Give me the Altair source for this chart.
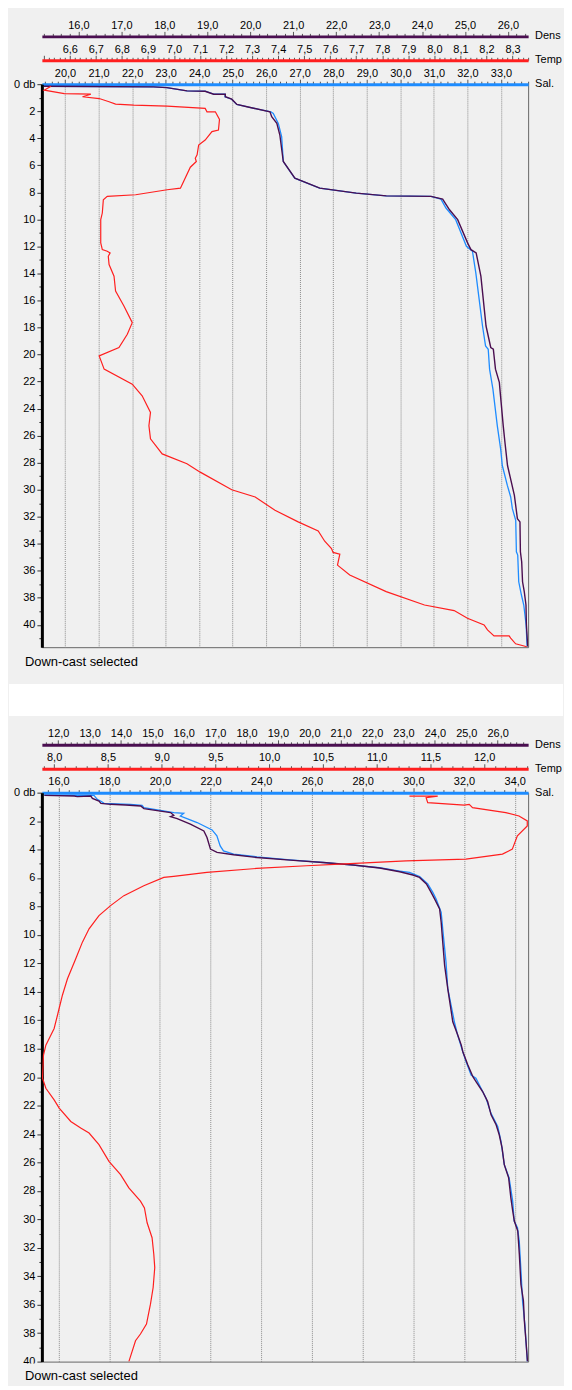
import math
import altair as alt
import pandas as pd

FONT = "Liberation Sans"
BG = "#f0f0f0"
BLUE = "#1e8cff"
PURPLE = "#4a0e50"
RED = "#ff1f1f"
W = 488
H1 = 565
H2 = 571
RIGHT = 35  # room right of the plot for the axis names

# ---------------- Panel 1 (upper) ----------------
p1_ymax = 41.65
p1_sal_dom = [19.31, 33.81]
p1_temp_dom = [6.493, 8.36]
p1_dens_dom = [15.15, 26.47]

p1_dens_depth = [0.15, 0.20, 0.25, 0.49, 0.52, 0.74, 0.74, 0.93, 1.11, 1.50, 1.72, 2.04, 2.41, 2.90, 3.76,
                 5.72, 6.95, 7.69, 8.06, 8.26, 8.30, 8.50, 9.29, 10.02, 11.74, 12.24, 12.48, 14.20, 17.89, 19.48,
                 19.61, 21.08, 22.06, 22.80, 25.26, 26.49, 28.21, 30.42, 32.14, 32.38, 34.59, 35.33, 36.81, 37.54,
                 38.53, 40.0, 41.6]
p1_dens = [15.20, 17.75, 18.06, 18.53, 18.95, 19.15, 19.42, 19.42, 19.57, 19.69, 20.00, 20.46, 20.50, 20.62, 20.69,
           20.77, 21.04, 21.62, 22.47, 23.17, 24.21, 24.48, 24.64, 24.83, 25.06, 25.14, 25.26, 25.37, 25.49, 25.60,
           25.66, 25.71, 25.80, 25.82, 25.89, 25.93, 25.99, 26.15, 26.22, 26.28, 26.29, 26.32, 26.34, 26.38,
           26.42, 26.43, 26.46]

p1_sal_depth = [0.15, 0.20, 0.25, 0.49, 0.52, 0.74, 0.74, 0.93, 1.11, 1.50, 1.72, 2.04, 2.16, 2.90, 3.88,
                5.72, 6.95, 7.69, 8.06, 8.26, 8.30, 8.50, 9.16, 10.02, 11.99, 12.36, 13.96, 15.92, 17.89, 19.36,
                19.61, 21.08, 22.56, 25.26, 26.98, 28.21, 29.68, 30.54, 31.40, 32.26, 34.59, 34.84, 36.81, 37.79,
                38.53, 40.0, 41.6]
p1_sal = [19.38, 22.64, 23.04, 23.63, 24.18, 24.43, 24.77, 24.77, 24.97, 25.12, 25.51, 26.14, 26.21, 26.36, 26.46,
          26.51, 26.85, 27.59, 28.68, 29.57, 30.91, 31.21, 31.36, 31.65, 31.97, 32.15, 32.25, 32.35, 32.45, 32.54,
          32.62, 32.66, 32.76, 32.89, 32.99, 33.04, 33.19, 33.29, 33.34, 33.44, 33.46, 33.50, 33.53, 33.61,
          33.68, 33.75, 33.78]

p1_temp_depth = [0.15, 0.44, 0.69, 0.74, 0.93, 1.06, 1.30, 1.47, 1.55, 1.62, 1.79, 2.04, 2.04, 2.60, 3.39,
                 3.51, 4.13, 4.50, 5.23, 5.48, 5.72, 6.14, 7.69, 7.81, 8.18, 8.30, 8.55, 9.53, 10.02, 11.74,
                 12.24, 12.36, 12.48, 12.73, 13.34, 14.20, 15.31, 16.41, 17.64, 18.50, 19.48, 20.10, 21.08, 22.19,
                 23.05, 24.28, 25.26, 26.24, 27.35, 28.08, 28.70, 30.0, 30.54, 31.52, 32.38, 33.05, 33.81, 34.35,
                 34.64, 34.77, 35.58, 36.31, 37.54, 38.53, 38.94, 39.51, 40.0, 40.37, 40.81, 40.81, 40.98, 41.40,
                 41.62]
p1_temp = [6.528, 6.502, 6.579, 6.681, 6.649, 6.713, 6.751, 6.776, 6.846, 6.974, 7.120, 7.127, 7.159, 7.175, 7.171,
           7.146, 7.120, 7.095, 7.089, 7.082, 7.086, 7.063, 7.025, 6.974, 6.853, 6.744, 6.729, 6.725, 6.719, 6.719,
           6.725, 6.744, 6.755, 6.748, 6.751, 6.770, 6.776, 6.808, 6.840, 6.821, 6.789, 6.713, 6.732, 6.840,
           6.878, 6.910, 6.904, 6.910, 6.955, 7.050, 7.101, 7.222, 7.312, 7.388, 7.477, 7.554, 7.579, 7.605,
           7.611, 7.637, 7.628, 7.675, 7.815, 7.962, 8.076, 8.127, 8.191, 8.204, 8.229, 8.287, 8.293, 8.312,
           8.355]

# ---------------- Panel 2 (lower) ----------------
p2_ymax = 40.0
p2_sal_dom = [15.345, 34.53]
p2_temp_dom = [7.886, 12.409]
p2_dens_dom = [11.48, 26.97]

p2_temp_depth = [0.24, 0.24, 0.35, 0.70, 0.87, 0.82, 1.05, 1.40, 1.64, 1.99, 2.34, 3.04, 3.97, 4.32, 4.67,
                 4.79, 5.02, 5.14, 5.33, 5.61, 5.89, 5.96, 6.54, 7.24, 7.94, 8.64, 9.57, 10.51, 11.68, 13.08,
                 14.24, 15.65, 16.58, 17.05, 17.75, 18.45, 20.08, 20.78, 21.60, 22.18, 23.12, 23.58, 23.93, 24.75,
                 25.92, 26.85, 27.79, 28.72, 29.19, 30.24, 31.29, 32.45, 33.39, 34.79, 35.96, 37.36, 38.06, 38.53,
                 40.0]
p2_temp = [11.305, 11.568, 11.460, 11.475, 11.815, 11.861, 11.892, 12.201, 12.324, 12.401, 12.401, 12.309, 12.262,
           12.170, 11.830, 11.274, 10.656, 10.348, 9.884, 9.421, 9.112, 9.020, 8.834, 8.649, 8.525, 8.417, 8.325,
           8.263, 8.201, 8.124, 8.077, 8.031, 8.000, 7.969, 7.923, 7.901, 7.892, 7.923, 8.000, 8.047, 8.155,
           8.247, 8.325, 8.417, 8.510, 8.618, 8.695, 8.803, 8.840, 8.865, 8.911, 8.927, 8.936, 8.921, 8.896,
           8.859, 8.803, 8.757, 8.695]

p2_dens_depth = [0.19, 0.24, 0.28, 0.24, 0.40, 0.59, 0.75, 0.82, 0.87, 0.94, 1.12, 1.40, 1.59, 1.68, 1.82,
                 2.22, 2.69, 3.15, 3.97, 4.20, 4.37, 4.56, 4.74, 4.91, 5.09, 5.30, 5.56, 5.79, 5.96, 6.42,
                 7.01, 7.47, 8.17, 9.11, 10.51, 12.14, 13.78, 14.94, 16.11, 17.05, 17.75, 18.21, 19.15, 19.97,
                 20.31, 21.01, 21.72, 22.65, 23.35, 24.05, 24.98, 26.15, 27.08, 28.49, 29.42, 30.12, 30.82, 32.46,
                 34.56, 35.73, 37.12, 38.53, 40.0]
p2_dens = [11.56, 12.51, 12.61, 13.04, 13.09, 13.30, 13.36, 13.67, 14.15, 14.63, 14.73, 15.58, 15.68, 15.58, 15.79,
           16.21, 16.64, 16.74, 16.85, 17.06, 17.59, 18.33, 19.39, 20.44, 21.40, 22.24, 22.88, 23.30, 23.51, 23.73,
           23.88, 23.99, 24.15, 24.20, 24.25, 24.31, 24.41, 24.49, 24.57, 24.73, 24.84, 24.89, 25.05, 25.21,
           25.31, 25.52, 25.68, 25.79, 25.95, 26.05, 26.14, 26.21, 26.35, 26.42, 26.48, 26.53, 26.64, 26.69,
           26.74, 26.82, 26.85, 26.90, 26.95]

p2_sal_depth = [0.19, 0.19, 0.47, 0.59, 0.75, 0.82, 0.89, 1.05, 1.40, 1.45, 1.64, 1.82, 2.10, 2.62, 3.04,
                3.74, 4.09, 4.32, 4.51, 4.72, 4.91, 5.09, 5.28, 5.51, 5.61, 5.89, 6.42, 7.01, 7.47, 8.41,
                9.57, 11.91, 13.78, 14.94, 16.11, 17.05, 18.21, 18.91, 19.85, 20.08, 21.48, 22.53, 23.47, 24.52,
                26.15, 27.09, 28.72, 30.12, 30.59, 31.52, 33.39, 35.73, 37.36, 40.0]
p2_sal = [15.44, 17.40, 17.53, 17.66, 17.80, 18.84, 19.30, 19.37, 20.55, 20.94, 20.81, 21.07, 21.47, 22.06, 22.25,
          22.38, 22.51, 22.91, 23.82, 25.13, 26.45, 27.63, 28.67, 29.46, 29.85, 30.25, 30.57, 30.77, 30.90, 31.10,
          31.16, 31.29, 31.36, 31.49, 31.62, 31.75, 31.95, 32.08, 32.28, 32.47, 32.87, 33.06, 33.33, 33.46,
          33.59, 33.78, 33.92, 33.98, 34.11, 34.18, 34.24, 34.31, 34.40, 34.50]

axis_titles = ["Density", "Temp", "Sal."]
note_text = ["Down-cast selected"]


def frame(d, v):
    return pd.DataFrame({"depth": d, "value": v, "i": list(range(len(d)))})


def tick_values(lo, hi, step):
    k0 = math.ceil(lo / step - 1e-9)
    k1 = math.floor(hi / step + 1e-9)
    return [round(k * step, 4) for k in range(k0, k1 + 1)]


def major_test(step):
    return f"abs(datum.value / {step} - round(datum.value / {step})) < 0.001"


def x_axis(color, offset, dom, major, minor, label_min, grid=False):
    test = major_test(major)
    kw = dict(
        orient="top", offset=offset, title=None, minExtent=0,
        values=tick_values(dom[0], dom[1], minor),
        labelExpr=f"(({test}) && datum.value >= {label_min}) ? replace(format(datum.value, '.1f'), '.', ',') : ''",
        labelOverlap=False, labelFlush=False, labelFont=FONT, labelFontSize=11,
        labelColor="#000", labelPadding=1,
        domainColor=color, domainWidth=3,
        tickColor="#555", tickWidth=1,
        tickSize={"condition": {"test": test, "value": 5}, "value": 3},
        grid=grid,
    )
    if grid:
        kw.update(gridColor={"condition": {"test": test, "value": "#8c8c8c"}, "value": "transparent"},
                  gridDash=[1, 1], gridWidth=1)
    return alt.Axis(**kw)


def y_axis(ymax):
    test = "datum.value % 2 == 0"
    return alt.Axis(
        orient="left", title=None, values=tick_values(0, ymax, 1), minExtent=0,
        labelExpr="datum.value == 0 ? '0 db' : ((datum.value % 2 == 0) ? format(datum.value, 'd') : '')",
        labelOverlap=False, labelFlush=False, labelFont=FONT, labelFontSize=11, labelColor="#000",
        labelPadding=2, domainColor="#000", domainWidth=3, tickColor="#333",
        tickSize={"condition": {"test": test, "value": 5}, "value": 3}, grid=False,
    )


def panel(sal, dens, temp, sal_dom, dens_dom, temp_dom, sal_t, dens_t, temp_t, ymax, H, first):
    y = alt.Y("depth:Q", scale=alt.Scale(domain=[0, ymax], reverse=True, nice=False, zero=False),
              axis=y_axis(ymax))

    def line(df, color, width, dom, axis):
        return alt.Chart(df).mark_line(color=color, strokeWidth=width, clip=True).encode(
            x=alt.X("value:Q", scale=alt.Scale(domain=dom, nice=False, zero=False), axis=axis),
            y=y, order="i:Q")

    l_sal = line(sal, BLUE, 1.3, sal_dom, x_axis(BLUE, 0, sal_dom, *sal_t, grid=True))
    l_dens = line(dens, PURPLE, 1.4, dens_dom, x_axis(PURPLE, 48, dens_dom, *dens_t))
    l_temp = line(temp, RED, 1.2, temp_dom, x_axis(RED, 24, temp_dom, *temp_t))

    note = alt.Chart(pd.DataFrame({"t": note_text})).mark_text(
        align="left", baseline="middle", font=FONT, fontSize=13, color="#000"
    ).encode(text="t:N", x=alt.value(-17), y=alt.value(H + 14.5))

    titles = [
        alt.Chart(pd.DataFrame({"t": [t]})).mark_text(
            align="left", baseline="middle", font=FONT, fontSize=11, color="#000",
            limit=RIGHT - 7, ellipsis="\u200b"
        ).encode(text="t:N", x=alt.value(W + 7), y=alt.value(off))
        for t, off in zip(axis_titles, [-48, -24, 0])
    ]

    if first:
        band = alt.Chart(pd.DataFrame({"a": [0]})).mark_rect(color="white").encode(
            x=alt.value(-33), x2=alt.value(W + RIGHT), y=alt.value(H + 37), y2=alt.value(H + 69))
    else:
        band = alt.Chart(pd.DataFrame({"a": [0]})).mark_rect(color=BG).encode(
            x=alt.value(-33), x2=alt.value(0), y=alt.value(H + 2), y2=alt.value(H + 20))

    return alt.layer(band, l_sal, l_dens, l_temp, note, *titles).resolve_scale(x="independent").resolve_axis(
        x="independent").properties(width=W, height=H)


p1 = panel(frame(p1_sal_depth, p1_sal), frame(p1_dens_depth, p1_dens), frame(p1_temp_depth, p1_temp),
           p1_sal_dom, p1_dens_dom, p1_temp_dom, (1, 0.2, 19.5), (1, 0.2, 15.5), (0.1, 0.02, 6.55),
           p1_ymax, H1, True)
p2 = panel(frame(p2_sal_depth, p2_sal), frame(p2_dens_depth, p2_dens), frame(p2_temp_depth, p2_temp),
           p2_sal_dom, p2_dens_dom, p2_temp_dom, (2, 0.4, 15.5), (1, 0.2, 11.5), (0.5, 0.1, 7.9),
           p2_ymax, H2, False)

chart = alt.vconcat(p1, p2, spacing=10).properties(
    background=BG, padding={"left": 0, "top": 8, "right": 0, "bottom": 0}
).configure_view(stroke="#666", strokeWidth=1)

chart.save("out.html", embed_options={"renderer": "svg", "actions": False})
